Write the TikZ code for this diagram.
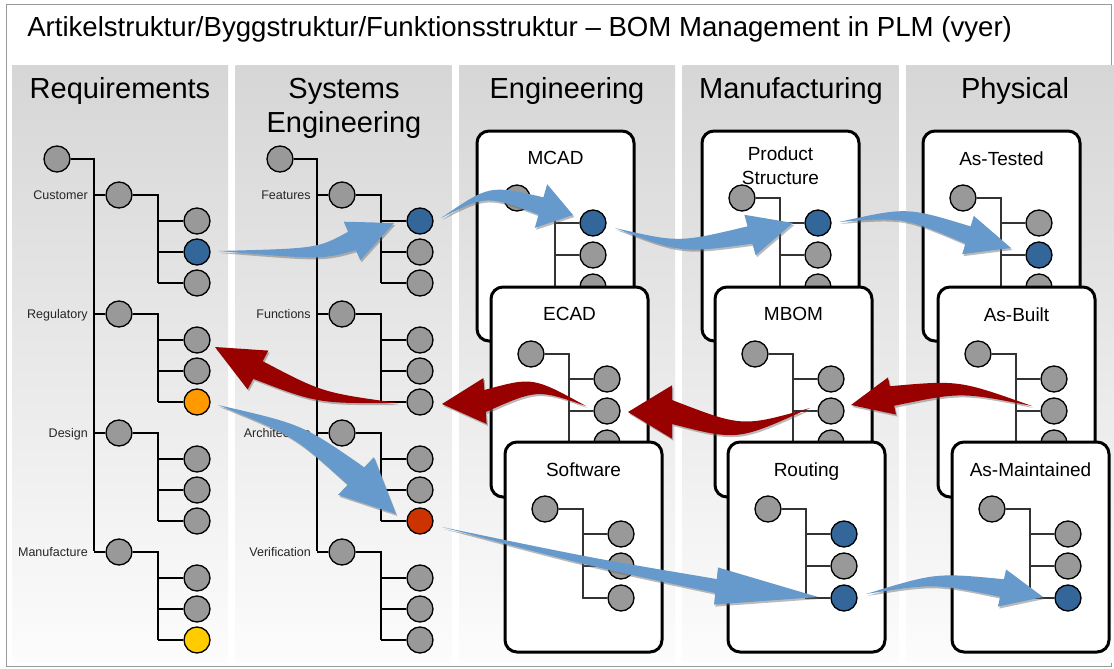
\documentclass[tikz,border=0pt]{standalone}
\usepackage{fontspec}
\setmainfont{Liberation Sans}
\usetikzlibrary{calc,shadows}
\definecolor{ngray}{RGB}{153,153,153}
\definecolor{nblue}{RGB}{51,102,153}
\definecolor{norange}{RGB}{255,153,0}
\definecolor{nyellow}{RGB}{255,204,0}
\definecolor{nred}{RGB}{204,51,0}
\definecolor{arrblue}{RGB}{102,153,204}
\definecolor{arrred}{RGB}{153,0,0}
\definecolor{paneltop}{RGB}{214,214,214}
\definecolor{panelbot}{RGB}{252,252,252}

\expandafter\def\csname lc@R-1-2\endcsname{nblue}
\expandafter\def\csname lc@R-2-3\endcsname{norange}
\expandafter\def\csname lc@R-4-3\endcsname{nyellow}
\expandafter\def\csname lc@S-1-1\endcsname{nblue}
\expandafter\def\csname lc@S-3-3\endcsname{nred}

\tikzset{
  nd/.style={circle, draw=black, line width=1pt, fill=ngray, minimum size=19.5pt, inner sep=0pt},
  tl/.style={draw=black, line width=1.2pt},
  ctl/.style={draw=black!80, line width=0.8pt},
  lbl/.style={anchor=base east, font=\fontsize{9.4pt}{11pt}\selectfont, text=black!85, inner sep=0pt},
  hdr/.style={anchor=base, font=\fontsize{21.75pt}{25.5pt}\selectfont, inner sep=0pt},
  ctitle/.style={anchor=north, font=\fontsize{14.25pt}{18pt}\selectfont, inner sep=0pt, align=center},
  cardbox/.style={draw=black, line width=2.25pt, fill=white, rounded corners=9pt, minimum width=117.75pt, minimum height=157.5pt, inner sep=0pt},
  lc/.code={\ifcsname lc@#1\endcsname\edef\lcdo{\noexpand\pgfkeysalso{fill=\csname lc@#1\endcsname}}\lcdo\fi},
  bluearr/.style={fill=arrblue, drop shadow={shadow xshift=1pt, shadow yshift=-1.5pt, opacity=0.45, fill=black!60}},
  redarr/.style={fill=arrred, drop shadow={shadow xshift=1pt, shadow yshift=-1.5pt, opacity=0.45, fill=black!60}},
}

\newcommand\coltree[3]{%
  \node[nd] (#1r) at ({57+#2},159) {};
  \coordinate (#1tb) at ({94+#2},551);
  \draw[tl] (#1r) -| (#1tb);
  \foreach \gi/\lab in {#3} {%
    \pgfmathsetmacro\gy{195+119*(\gi-1)}%
    \node[nd] (#1g\gi) at ({119+#2},\gy) {};
    \node[lbl] (#1lab\gi) at ({88+#2},{\gy+4.5}) {\lab};
    \coordinate (#1t\gi) at ({94+#2},\gy);
    \coordinate (#1b\gi) at ({158+#2},\gy);
    \draw[tl] (#1t\gi) -- (#1g\gi);
    \foreach \lj in {1,2,3} {%
      \pgfmathsetmacro\ly{\gy+26+31*(\lj-1)}%
      \node[nd, lc=#1-\gi-\lj] (#1g\gi l\lj) at ({197+#2},\ly) {};
      \draw[tl] (#1b\gi |- #1g\gi l\lj) -- (#1g\gi l\lj);
    }
    \draw[tl] (#1g\gi) -- (#1b\gi) -- (#1b\gi |- #1g\gi l3);
  }
}

\newcommand\card[8]{%
  \node[cardbox] (#1) at ({#2+78.5},{#3+105}) {};
  \node[ctitle] (#1t) at ({#2+78.5},{#3+#5}) {#4};
  \node[nd] (#1r) at ({#2+40},{#3+67}) {};
  \node[nd, fill=#6] (#1a) at ({#2+116},{#3+92}) {};
  \node[nd, fill=#7] (#1b) at ({#2+116},{#3+124}) {};
  \node[nd, fill=#8] (#1c) at ({#2+116},{#3+156}) {};
  \coordinate (#1v) at ({#2+78},{#3+67});
  \draw[ctl] (#1r) -- (#1v) |- (#1c);
  \draw[ctl] (#1v |- #1a) -- (#1a);
  \draw[ctl] (#1v |- #1b) -- (#1b);
}

% #1 style, #2 tail name, #3 control, #4 head base, #5 tip name, #6 body half width, #7 head half width
\newcommand\fatarr[7]{%
  \fill[#1] (#2) .. controls ($#3!0.6*#6!90:#4$) .. ($#4!#6!90:(#5)$) -- ($#4!#7!90:(#5)$) -- (#5)
    -- ($#4!#7!-90:(#5)$) -- ($#4!#6!-90:(#5)$) .. controls ($#3!0.6*#6!-90:#4$) .. cycle;
}

\begin{document}
\begin{tikzpicture}[x=0.75pt,y=-0.75pt]
\useasboundingbox (0,0) rectangle (1114,668);
\fill[white] (0,0) rectangle (1114,668);
\draw[black!40, line width=0.75pt] (6,4) rectangle (1111,666);

\node[anchor=base west, font=\fontsize{20.7pt}{24pt}\selectfont, inner sep=0pt] (title) at (27,36)
  {Artikelstruktur/Byggstruktur/Funktionsstruktur – BOM Management in PLM (vyer)};

% panels
\foreach \px in {12,235.5,459,682.5,906} {
  \shade[top color=paneltop, bottom color=panelbot] (\px,65) rectangle ({\px+216},662);
}

\node[hdr] (h1) at (120,98) {Requirements};
\node[hdr] (h2a) at (344,98) {Systems};
\node[hdr] (h2b) at (344,132) {Engineering};
\node[hdr] (h3) at (567,98) {Engineering};
\node[hdr] (h4) at (791,98) {Manufacturing};
\node[hdr] (h5) at (1015,98) {Physical};

\coltree{R}{0}{1/Customer,2/Regulatory,3/Design,4/Manufacture}
\coltree{S}{223}{1/Features,2/Functions,3/Architecture,4/Verification}

\card{mcad}{477}{131}{MCAD}{20}{nblue}{ngray}{ngray}
\card{ecad}{491}{287}{ECAD}{20}{ngray}{ngray}{ngray}
\card{sw}{505}{442}{Software}{20}{ngray}{ngray}{ngray}
\card{ps}{702}{131}{Product\\Structure}{15}{nblue}{ngray}{ngray}
\card{mb}{715}{287}{MBOM}{20}{ngray}{ngray}{ngray}
\card{rt}{728}{442}{Routing}{20}{nblue}{ngray}{nblue}
\card{at}{923}{131}{As-Tested}{20}{ngray}{nblue}{ngray}
\card{ab}{938}{287}{As-Built}{20}{ngray}{ngray}{ngray}
\card{am}{952}{442}{As-Maintained}{20}{ngray}{ngray}{nblue}

% arrow end points
\coordinate (a1s) at ($(Rg1l2)+(21,-1)$);   \coordinate (a1e) at ($(Sg1l1)+(-26,2)$);
\coordinate (a2s) at ($(Sg1l1)+(21,-3)$);   \coordinate (a2e) at ($(mcada)+(-20,-8)$);
\coordinate (a3s) at ($(mcada)+(22,5)$);    \coordinate (a3e) at ($(psa)+(-25,0)$);
\coordinate (a4s) at ($(psa)+(21,-1)$);     \coordinate (a4e) at ($(atb)+(-28,-7)$);
\coordinate (a5s) at ($(Rg2l3)+(21,3)$);    \coordinate (a5e) at ($(Sg3l3)+(-24,-7)$);
\coordinate (a6s) at ($(Sg3l3)+(22,6)$);    \coordinate (a6e) at ($(rtc)+(-26,-1)$);
\coordinate (a7s) at ($(rtc)+(22,-4)$);     \coordinate (a7e) at ($(amc)+(-25,-1)$);
\coordinate (a8s) at ($(abb)+(-22,-5)$);    \coordinate (a8e) at ($(mbb)+(20,-6)$);
\coordinate (a9s) at ($(mbb)+(-21,-3)$);    \coordinate (a9e) at ($(ecadb)+(21,1)$);
\coordinate (a10s) at ($(ecadb)+(-21,-5)$); \coordinate (a10e) at ($(Sg2l3)+(22,2)$);
\coordinate (a11s) at ($(Sg2l3)+(-22,1)$);  \coordinate (a11e) at ($(Rg2l1)+(18,7)$);

\fatarr{bluearr}{a1s}{(320,254)}{(352,241)}{a1e}{7.5pt}{15.75pt}
\fatarr{bluearr}{a2s}{(488,190)}{(541,206)}{a2e}{6.75pt}{17pt}
\fatarr{bluearr}{a3s}{(680,248)}{(750,235)}{a3e}{6.75pt}{15.75pt}
\fatarr{bluearr}{a4s}{(905,212)}{(968,235)}{a4e}{6.75pt}{15pt}
\fatarr{bluearr}{a5s}{(298,430)}{(356,476)}{a5e}{9pt}{19.5pt}
\fatarr{bluearr}{a6s}{(590,562)}{(716,586)}{a6e}{5.25pt}{14pt}
\fatarr{bluearr}{a7s}{(935,578)}{(1002,588)}{a7e}{6.75pt}{14.25pt}
\fatarr{redarr}{a8s}{(960,386)}{(892,396)}{a8e}{7.5pt}{14.25pt}
\fatarr{redarr}{a9s}{(740,434)}{(672,412)}{a9e}{9pt}{20pt}
\fatarr{redarr}{a10s}{(535,383)}{(485,401)}{a10e}{8.25pt}{17.25pt}
\fatarr{redarr}{a11s}{(320,398)}{(258,370)}{a11e}{7.5pt}{16.5pt}
\end{tikzpicture}
\end{document}
